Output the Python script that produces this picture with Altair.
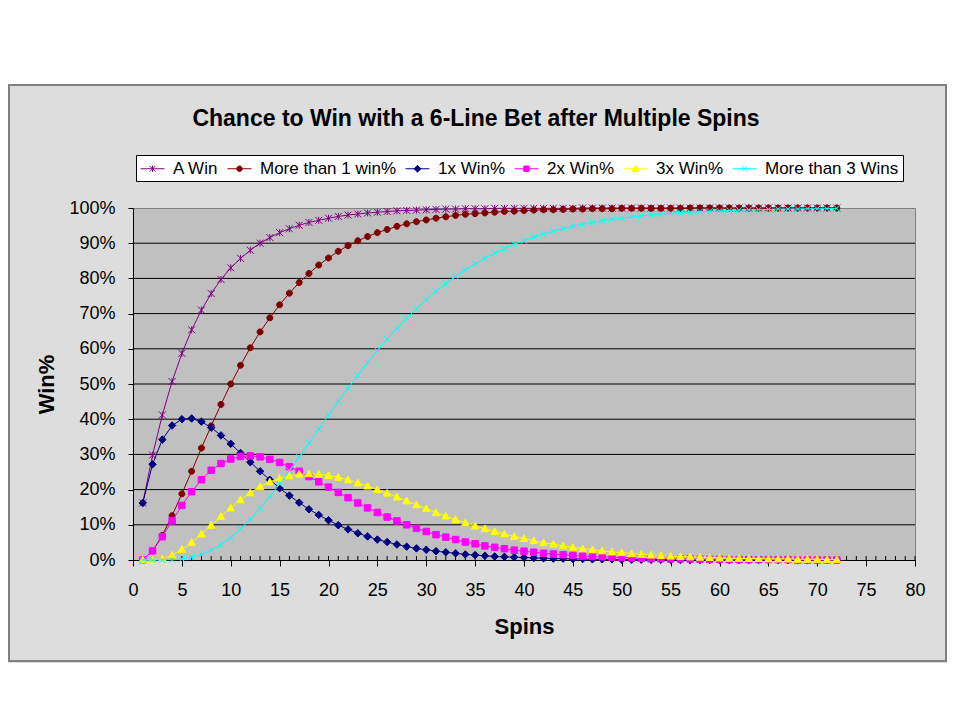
import altair as alt
import pandas as pd

# ---------------- data ----------------
spins = list(range(1, 73))

a_win = [0.162, 0.298, 0.412, 0.507, 0.587, 0.654, 0.710, 0.757, 0.797, 0.830,
         0.857, 0.880, 0.900, 0.916, 0.930, 0.941, 0.951, 0.959, 0.965, 0.971,
         0.976, 0.980, 0.983, 0.986, 0.988, 0.990, 0.992, 0.993, 0.994, 0.995,
         0.996, 0.997, 0.997, 0.998, 0.998, 0.998, 0.999, 0.999, 0.999, 0.999,
         0.999, 0.999, 0.999, 0.999, 0.999, 1.000, 1.000, 1.000, 1.000, 1.000,
         1.000, 1.000, 1.000, 1.000, 1.000, 1.000, 1.000, 1.000, 1.000, 1.000,
         1.000, 1.000, 1.000, 1.000, 1.000, 1.000, 1.000, 1.000, 1.000, 1.000,
         1.000, 1.000]

more_than_1 = [0.000, 0.026, 0.070, 0.126, 0.188, 0.252, 0.318, 0.381, 0.442, 0.500,
               0.553, 0.603, 0.648, 0.688, 0.725, 0.758, 0.788, 0.814, 0.838, 0.858,
               0.877, 0.893, 0.907, 0.919, 0.930, 0.939, 0.948, 0.955, 0.961, 0.966,
               0.971, 0.975, 0.979, 0.982, 0.984, 0.986, 0.988, 0.990, 0.991, 0.993,
               0.994, 0.995, 0.995, 0.996, 0.997, 0.997, 0.998, 0.998, 0.998, 0.999,
               0.999, 0.999, 0.999, 0.999, 0.999, 0.999, 1.000, 1.000, 1.000, 1.000,
               1.000, 1.000, 1.000, 1.000, 1.000, 1.000, 1.000, 1.000, 1.000, 1.000,
               1.000, 1.000]

one_x = [0.162, 0.272, 0.342, 0.382, 0.400, 0.402, 0.393, 0.376, 0.354, 0.330,
         0.304, 0.278, 0.252, 0.228, 0.204, 0.183, 0.163, 0.144, 0.128, 0.113,
         0.099, 0.087, 0.076, 0.067, 0.058, 0.051, 0.044, 0.038, 0.033, 0.029,
         0.025, 0.022, 0.019, 0.016, 0.014, 0.012, 0.010, 0.009, 0.008, 0.007,
         0.006, 0.005, 0.004, 0.004, 0.003, 0.003, 0.002, 0.002, 0.002, 0.001,
         0.001, 0.001, 0.001, 0.001, 0.001, 0.000, 0.000, 0.000, 0.000, 0.000,
         0.000, 0.000, 0.000, 0.000, 0.000, 0.000, 0.000, 0.000, 0.000, 0.000,
         0.000, 0.000]

two_x = [0.000, 0.026, 0.066, 0.111, 0.155, 0.194, 0.228, 0.255, 0.274, 0.287,
         0.294, 0.296, 0.293, 0.286, 0.277, 0.265, 0.252, 0.237, 0.222, 0.207,
         0.192, 0.177, 0.162, 0.148, 0.135, 0.122, 0.111, 0.100, 0.090, 0.081,
         0.072, 0.065, 0.058, 0.051, 0.046, 0.040, 0.036, 0.032, 0.028, 0.025,
         0.022, 0.019, 0.017, 0.015, 0.013, 0.011, 0.010, 0.009, 0.008, 0.007,
         0.006, 0.005, 0.004, 0.004, 0.003, 0.003, 0.003, 0.002, 0.002, 0.002,
         0.001, 0.001, 0.001, 0.001, 0.001, 0.001, 0.001, 0.000, 0.000, 0.000,
         0.000, 0.000]

three_x = [0.000, 0.000, 0.004, 0.014, 0.030, 0.050, 0.074, 0.099, 0.124, 0.148,
           0.171, 0.191, 0.208, 0.222, 0.232, 0.239, 0.244, 0.245, 0.244, 0.240,
           0.235, 0.228, 0.219, 0.210, 0.200, 0.190, 0.179, 0.168, 0.157, 0.146,
           0.135, 0.125, 0.115, 0.106, 0.097, 0.089, 0.081, 0.074, 0.067, 0.061,
           0.055, 0.049, 0.045, 0.040, 0.036, 0.032, 0.029, 0.026, 0.023, 0.021,
           0.018, 0.016, 0.014, 0.013, 0.011, 0.010, 0.009, 0.008, 0.007, 0.006,
           0.005, 0.005, 0.004, 0.004, 0.003, 0.003, 0.003, 0.002, 0.002, 0.002,
           0.001, 0.001]

more_than_3 = [0.000, 0.000, 0.000, 0.001, 0.003, 0.008, 0.016, 0.028, 0.044, 0.064,
               0.088, 0.116, 0.147, 0.180, 0.216, 0.254, 0.293, 0.332, 0.372, 0.412,
               0.451, 0.488, 0.525, 0.561, 0.595, 0.628, 0.658, 0.687, 0.714, 0.740,
               0.763, 0.785, 0.806, 0.824, 0.841, 0.857, 0.872, 0.885, 0.897, 0.907,
               0.917, 0.926, 0.934, 0.941, 0.948, 0.954, 0.959, 0.964, 0.968, 0.971,
               0.975, 0.978, 0.980, 0.983, 0.985, 0.987, 0.988, 0.990, 0.991, 0.992,
               0.993, 0.994, 0.995, 0.995, 0.996, 0.997, 0.997, 0.997, 0.998, 0.998,
               0.998, 0.999]

series_names = ["A Win", "More than 1 win%", "1x Win%", "2x Win%", "3x Win%",
                "More than 3 Wins"]
series_values = [a_win, more_than_1, one_x, two_x, three_x, more_than_3]

x_major = [0, 5, 10, 15, 20, 25, 30, 35, 40, 45, 50, 55, 60, 65, 70, 75, 80]
x_minor = list(range(1, 81))
y_ticks = [0.0, 0.1, 0.2, 0.3, 0.4, 0.5, 0.6, 0.7, 0.8, 0.9, 1.0]
y_grid = [0.1, 0.2, 0.3, 0.4, 0.5, 0.6, 0.7, 0.8, 0.9]

# ---------------- styling ----------------
series_colors = ["#800080", "#800000", "#000080", "#FF00FF", "#FFFF00", "#00FFFF"]
marker_paths = [
    "M-1,-1L1,1M-1,1L1,-1M0,-1V1",                       # asterisk
    "M1,0A1,1,0,1,1,-1,0A1,1,0,1,1,1,0Z",                # circle
    "M0,-1L1,0L0,1L-1,0Z",                               # diamond
    "M-1,-1H1V1H-1Z",                                    # square
    "M0,-1L1,0.8L-1,0.8Z",                               # triangle
    "M-1,-1L1,1M-1,1L1,-1",                              # x
]
marker_sizes = [49, 36, 56, 42, 56, 36]
marker_filled = [False, True, True, True, True, False]
legend_paths = [
    "M-1.33,0H1.33M-0.3,-0.3L0.3,0.3M-0.3,0.3L0.3,-0.3M0,-0.35V0.35",
    "M-1.33,0H1.33M0.3,0A0.3,0.3,0,1,1,-0.3,0A0.3,0.3,0,1,1,0.3,0Z",
    "M-1.33,0H1.33M0,-0.38L0.38,0L0,0.38L-0.38,0Z",
    "M-1.33,0H1.33M-0.3,-0.3H0.3V0.3H-0.3Z",
    "M-1.33,0H1.33M0,-0.38L0.38,0.3L-0.38,0.3Z",
    "M-1.33,0H1.33M-0.3,-0.3L0.3,0.3M-0.3,0.3L0.3,-0.3",
]

FONT = "Liberation Sans"
W, H = 782, 352

rows = []
for name, vals in zip(series_names, series_values):
    for n, v in zip(spins, vals):
        rows.append({"series": name, "n": n, "v": v})
df = pd.DataFrame(rows)

x_scale = alt.Scale(domain=[0, 80], nice=False, zero=False)
y_scale = alt.Scale(domain=[0, 1], nice=False)

x_axis = alt.Axis(values=x_major, format="d", title="Spins", grid=False,
                  labelFont=FONT, labelFontSize=18, labelColor="black",
                  labelPadding=15, labelFlush=False, labelOverlap=False,
                  tickSize=6, tickColor="black", domainColor="black",
                  titleFont=FONT, titleFontSize=22, titleFontWeight="bold",
                  titleColor="black", titleX=W / 2, titleY=73,
                  titleBaseline="alphabetic", titleAlign="center")
y_axis = alt.Axis(values=y_ticks, format=".0%", title="Win%", grid=False,
                  labelFont=FONT, labelFontSize=18, labelColor="black",
                  labelPadding=13, labelOverlap=False,
                  tickSize=5, tickColor="black", domainColor="black",
                  titleFont=FONT, titleFontSize=22, titleFontWeight="bold",
                  titleColor="black", titleX=-80, titleY=H / 2, titleAngle=270,
                  titleBaseline="alphabetic", titleAlign="center")

X = alt.X("n:Q", scale=x_scale, axis=x_axis)
Y = alt.Y("v:Q", scale=y_scale, axis=y_axis)

one = pd.DataFrame({"k": [0]})

# white page strip above the grey chart frame
top_band = alt.Chart(one).mark_rect(fill="white", strokeWidth=0).encode(
    x=alt.value(-125), x2=alt.value(W + 32), y=alt.value(-200), y2=alt.value(-123))

# grey border of the chart frame
frame = alt.Chart(one).mark_rect(fill="white", fillOpacity=0, stroke="#808080",
                                 strokeWidth=2).encode(
    x=alt.value(-124), x2=alt.value(813), y=alt.value(-123), y2=alt.value(453))

grid = alt.Chart(pd.DataFrame({"v": y_grid})).mark_rule(color="black", strokeWidth=1).encode(
    y=Y)

minor = alt.Chart(pd.DataFrame({"n": x_minor})).mark_rule(color="black", strokeWidth=1).encode(
    x=X, y=alt.value(H - 4), y2=alt.value("height"))

layers = [top_band, frame, grid, minor]
for name, col, path, size, filled in zip(series_names, series_colors, marker_paths,
                                         marker_sizes, marker_filled):
    sdf = df[df["series"] == name]
    base = alt.Chart(sdf).encode(x=X, y=Y)
    layers.append(base.mark_line(color=col, strokeWidth=1))
    if filled:
        layers.append(base.mark_point(shape=path, size=size, filled=True, fill=col,
                                      stroke=col, strokeWidth=1, opacity=1))
    else:
        layers.append(base.mark_point(shape=path, size=size, filled=False,
                                      stroke=col, strokeWidth=1, opacity=1))

leg = alt.Legend(title=None, orient="none", legendX=3, legendY=-53,
                 direction="horizontal", fillColor="white", strokeColor="black",
                 padding=4, columnPadding=6, labelOffset=11, labelFont=FONT,
                 labelFontSize=17, labelColor="black", symbolSize=324,
                 symbolOffset=3, symbolStrokeWidth=1, labelLimit=400, zindex=1)

legend_layer = alt.Chart(df).transform_filter("datum.n < 0").mark_point(
    filled=True, size=324, strokeWidth=1, opacity=1).encode(
    x=X, y=Y,
    shape=alt.Shape("series:N", scale=alt.Scale(domain=series_names, range=legend_paths), legend=leg),
    fill=alt.Fill("series:N", scale=alt.Scale(domain=series_names, range=series_colors), legend=leg),
    stroke=alt.Stroke("series:N", scale=alt.Scale(domain=series_names, range=series_colors), legend=leg),
)
layers.append(legend_layer)

chart = alt.layer(*layers).properties(
    width=W, height=H,
    padding={"left": 125, "top": 200, "right": 32, "bottom": 103},
    autosize=alt.AutoSizeParams(type="none"),
    background="#DDDDDD",
    title=alt.TitleParams(text="Chance to Win with a 6-Line Bet after Multiple Spins",
                          font=FONT, fontSize=23, fontWeight="bold", color="black",
                          anchor="middle", baseline="alphabetic", offset=-141, dx=-48,
                          zindex=1),
).configure_view(fill="#C0C0C0", stroke="#808080", strokeWidth=1)

chart.save("out.html", embed_options={"renderer": "svg", "actions": False})
